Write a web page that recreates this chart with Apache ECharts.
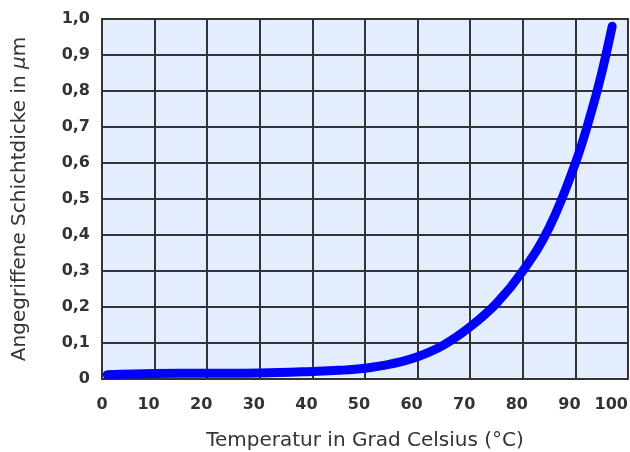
<!DOCTYPE html>
<html>
<head>
<meta charset="utf-8">
<script src="https://cdn.jsdelivr.net/npm/echarts@6/dist/echarts.min.js"></script>
<style>html,body{margin:0;padding:0;background:#fff}#c{width:630px;height:452px}</style>
</head>
<body>
<div id="c"></div>
<script>
const temperatures = [1, 10, 20, 30, 40, 45, 50, 55, 60, 65, 70, 75, 80, 85, 90, 93, 95, 97];
const thickness = [0.012, 0.015, 0.016, 0.017, 0.021, 0.024, 0.03, 0.042, 0.062, 0.095, 0.145, 0.21, 0.3, 0.42, 0.6, 0.74, 0.85, 0.98];
const xTicks = [0, 10, 20, 30, 40, 50, 60, 70, 80, 90, 100];
const yTicks = ['0', '0,1', '0,2', '0,3', '0,4', '0,5', '0,6', '0,7', '0,8', '0,9', '1,0'];
const xTitle = 'Temperatur in Grad Celsius (°C)';
const yTitleText = 'Angegriffene Schichtdicke in ';
const yTitleUnit = 'm';

const chart = echarts.init(document.getElementById('c'));
const font = 'DejaVu Sans';
const tickStyle = { fontSize: 16, fontWeight: 'bold', color: '#333', fontFamily: font };
chart.setOption({
  animation: false,
  textStyle: { fontFamily: font },
  grid: { left: 102, right: 2, top: 19, bottom: 73, show: true, outerBoundsMode: 'none', containLabel: false,
    backgroundColor: '#e4edfd', borderColor: '#333', borderWidth: 2 },
  xAxis: {
    type: 'value', min: 0, max: 100, interval: 10,
    name: xTitle, nameLocation: 'middle', nameGap: 52,
    nameTextStyle: { fontSize: 20, color: '#333', fontFamily: font },
    axisLine: { show: false }, axisTick: { show: false },
    splitLine: { show: true, lineStyle: { color: '#333', width: 2 } },
    axisLabel: { margin: 18, ...tickStyle, alignMaxLabel: 'right',
      formatter: v => v === 100 ? '{m|' + v + '}' : (v === 0 ? '{m|0}' : '{n|' + v + '}'),
      rich: {
        n: { ...tickStyle, padding: [0, 12, 0, 0] },
        m: { ...tickStyle }
      } }
  },
  yAxis: {
    type: 'value', min: 0, max: 1, interval: 0.1,
    name: '{t|' + yTitleText + '}{u|μ}{t|' + yTitleUnit + '}', nameLocation: 'middle', nameGap: 72,
    nameTextStyle: { rich: {
      t: { fontSize: 20, color: '#333', fontFamily: font },
      u: { fontSize: 20, color: '#333', fontFamily: font, fontStyle: 'italic' }
    } },
    axisLine: { show: false }, axisTick: { show: false },
    splitLine: { show: true, lineStyle: { color: '#333', width: 2 } },
    axisLabel: { margin: 12, ...tickStyle,
      formatter: v => yTicks[Math.round(v * 10)] }
  },
  series: [{
    type: 'line', smooth: 0.4, showSymbol: false,
    data: temperatures.map((t, i) => [t, thickness[i]]),
    lineStyle: { color: '#0000ff', width: 9, cap: 'round', join: 'round' }
  }]
});
</script>
</body>
</html>
